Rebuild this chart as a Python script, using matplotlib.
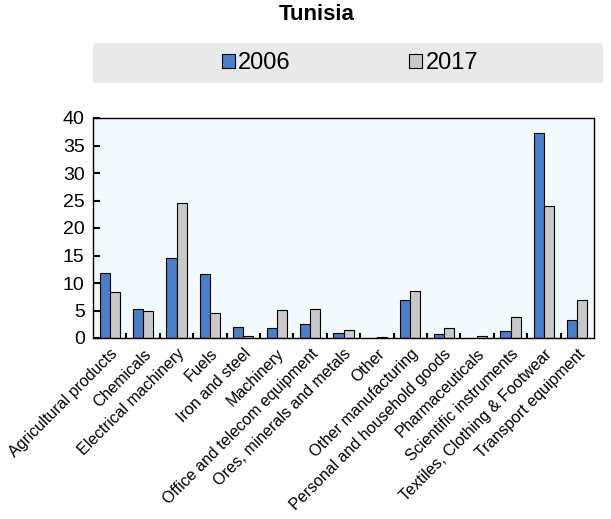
import matplotlib
matplotlib.use("Agg")
import matplotlib.pyplot as plt
from matplotlib.patches import Rectangle
from matplotlib.ticker import FixedLocator
import numpy as np

plt.rcParams["font.family"] = ["Liberation Sans", "DejaVu Sans"]

categories = [
    "Agricultural products", "Chemicals", "Electrical machinery", "Fuels",
    "Iron and steel", "Machinery", "Office and telecom equipment",
    "Ores, minerals and metals", "Other", "Other manufacturing",
    "Personal and household goods", "Pharmaceuticals", "Scientific instruments",
    "Textiles, Clothing & Footwear", "Transport equipment",
]
values_2006 = [11.8, 5.2, 14.6, 11.6, 2.0, 1.9, 2.5, 1.0, 0.05, 6.9, 0.7, 0.05, 1.3, 37.2, 3.3]
values_2017 = [8.4, 5.0, 24.6, 4.5, 0.4, 5.1, 5.2, 1.45, 0.15, 8.6, 1.9, 0.35, 3.75, 24.0, 6.85]
series_names = ["2006", "2017"]
y_ticks = [0, 5, 10, 15, 20, 25, 30, 35, 40]

BLUE = "#4A7EC6"
GREY = "#C9C9C9"

fig = plt.figure(figsize=(6.11, 5.19), dpi=100)
ax = fig.add_axes([93 / 611, 1 - 338 / 519, (594 - 93) / 611, 220 / 519])
ax.set_facecolor("#F2FAFE")

x = np.arange(len(categories))
w = 0.3
ax.bar(x - w / 2, values_2006, w, color=BLUE, edgecolor="black", linewidth=0.8, label=series_names[0])
ax.bar(x + w / 2, values_2017, w, color=GREY, edgecolor="black", linewidth=0.8, label=series_names[1])

ax.set_xlim(-0.5, len(categories) - 0.5)
ax.set_ylim(0, 40)
ax.set_yticks(y_ticks)
ax.set_xticks(x)
ax.set_xticklabels(categories, rotation=45, ha="right", va="top",
                   rotation_mode="anchor", fontsize=11.5)
ax.xaxis.set_minor_locator(FixedLocator(np.arange(0.5, len(categories) - 0.5, 1)))
ax.tick_params(axis="x", which="major", length=0, pad=6)
ax.tick_params(axis="x", which="minor", direction="in", length=3.5, width=1.5)
ax.tick_params(axis="y", direction="in", length=5, width=1.5, labelsize=14, pad=6)
for spine in ax.spines.values():
    spine.set_linewidth(1.0)

# legend band across the top
fig.patches.append(Rectangle((93 / 611, 1 - 83 / 519), (603 - 93) / 611, 40 / 519,
                             transform=fig.transFigure, facecolor="#E9E9E9",
                             edgecolor="none", zorder=0))
fig.legend(loc="center", bbox_to_anchor=(350 / 611, 1 - 63 / 519), ncol=2,
           frameon=False, fontsize=17, handlelength=0.55, handleheight=0.55,
           handletextpad=0.15, columnspacing=5.0)

fig.text(317 / 611, 1 - 15 / 519, "Tunisia", ha="center", va="center",
         fontsize=16, fontweight="bold")

fig.savefig("out.png", dpi=100)
